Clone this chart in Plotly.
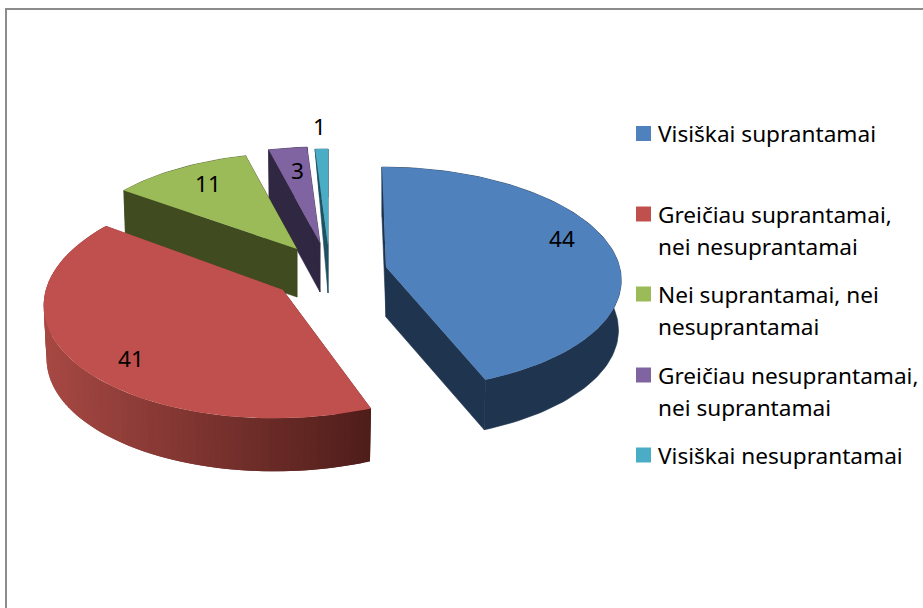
import math
import plotly.graph_objects as go

# --- data ---
categories = [
    ["Visiškai suprantamai"],
    ["Greičiau suprantamai,", "nei nesuprantamai"],
    ["Nei suprantamai, nei", "nesuprantamai"],
    ["Greičiau nesuprantamai,", "nei suprantamai"],
    ["Visiškai nesuprantamai"],
]
values = [44, 41, 11, 3, 1]

# --- styles ---
top_colors = ["#4F81BD", "#C0504D", "#9BBB59", "#8064A2", "#4BACC6"]
side_colors = ["#1F344F", None, "#404B20", "#302742", "#1F5260"]
red_rim_light = (166, 72, 67)
red_rim_dark = (78, 29, 26)
FONT = "Noto Sans"
FONT_SIZE = 22.6

# --- layout of the exploded 3D pie, in canvas pixels ---
W, H = 923, 608
apex = [(386, 267), (283, 290), (297, 249), (320, 243), (328, 245)]
scale_x = [0.99, 1.005, 0.96, 0.96, 0.96]
scale_y = [1.0, 1.05, 0.96, 0.96, 0.96]
shear = [4.5, -8, 0, 0, 0]
bottom_scale = [0.988, 0.988, 0.99, 0.99, 0.65]
depth = [50, 53, 48, 49, 48]
RX, RY, PERSP = 236, 110, 0.1
label_xy = [(562, 238), (131, 358), (208, 183), (297, 170), (319, 126)]
legend_y = [133.5, 214, 294, 375, 455]
LEGEND_SWATCH_X, LEGEND_TEXT_X, LEGEND_LINE = 643.5, 658, 32


def project(i, theta, r=1.0):
    u = r * math.sin(theta)
    v = -r * math.cos(theta)
    d = 1 - PERSP * v
    return (scale_x[i] * (RX * u + shear[i] * v) / d, scale_y[i] * RY * v / d)


def top_pt(i, theta):
    dx, dy = project(i, theta)
    return (apex[i][0] + dx, apex[i][1] + dy)


def bot_pt(i, theta):
    dx, dy = project(i, theta)
    return (apex[i][0] + dx * bottom_scale[i], apex[i][1] + dy + depth[i])


def poly(points, color, edge=0.0):
    xs = [p[0] for p in points] + [points[0][0]]
    ys = [p[1] for p in points] + [points[0][1]]
    return go.Scatter(x=xs, y=ys, mode="lines", fill="toself", fillcolor=color,
                      line=dict(color=color, width=edge), hoverinfo="skip", showlegend=False)


total = sum(values)
bounds = [0.0]
for val in values:
    bounds.append(bounds[-1] + 2 * math.pi * val / total)

fig = go.Figure()
for i in reversed(range(len(values))):
    a0, a1 = bounds[i], bounds[i + 1]
    n = max(4, int(math.degrees(a1 - a0) / 1.5))
    thetas = [a0 + (a1 - a0) * k / n for k in range(n + 1)]
    side = side_colors[i]
    ap_t, ap_b = apex[i], (apex[i][0], apex[i][1] + depth[i])

    def rim_color(x):
        if side is not None:
            return side
        t = min(1, max(0, (x - 47) / 326))
        return "rgb(%d,%d,%d)" % tuple(round(a + (b - a) * t) for a, b in zip(red_rim_light, red_rim_dark))

    # cut faces
    edge = 0.6 if side is not None else 0
    fig.add_trace(poly([top_pt(i, a0), ap_t, ap_b, bot_pt(i, a0)], rim_color(top_pt(i, a0)[0]), edge))
    fig.add_trace(poly([top_pt(i, a1), ap_t, ap_b, bot_pt(i, a1)], rim_color(top_pt(i, a1)[0]), edge))
    # outer rim
    if side is not None:
        fig.add_trace(poly([top_pt(i, t) for t in thetas] + [bot_pt(i, t) for t in reversed(thetas)], side, edge))
    else:
        # graded rim: each band overlaps the next one so that no seams show
        for k in range(n):
            p, q = thetas[k], thetas[min(k + 2, n)]
            xm = (top_pt(i, thetas[k])[0] + top_pt(i, thetas[k + 1])[0]) / 2
            fig.add_trace(poly([top_pt(i, p), top_pt(i, thetas[k + 1]), top_pt(i, q),
                                bot_pt(i, q), bot_pt(i, thetas[k + 1]), bot_pt(i, p)], rim_color(xm)))
    # top face
    fig.add_trace(poly([ap_t] + [top_pt(i, t) for t in thetas], top_colors[i]))

# legend swatches
fig.add_trace(go.Scatter(
    x=[LEGEND_SWATCH_X] * len(values), y=legend_y, mode="markers",
    marker=dict(symbol="square", size=15, color=top_colors, line=dict(width=0)),
    hoverinfo="skip", showlegend=False))

annotations = []
for val, (lx, ly) in zip(values, label_xy):
    annotations.append(dict(x=lx, y=ly, text=str(val), showarrow=False, xanchor="center", yanchor="middle",
                            font=dict(family=FONT, size=FONT_SIZE, color="#000000")))
for lines, y0 in zip(categories, legend_y):
    for j, line in enumerate(lines):
        annotations.append(dict(x=LEGEND_TEXT_X, y=y0 + j * LEGEND_LINE, text=line, showarrow=False,
                                xanchor="left", yanchor="middle", xshift=-2,
                                font=dict(family=FONT, size=FONT_SIZE, color="#000000")))

fig.update_layout(
    width=W, height=H, margin=dict(l=0, r=0, t=0, b=0),
    paper_bgcolor="#ffffff", plot_bgcolor="#ffffff", showlegend=False,
    xaxis=dict(range=[0, W], visible=False, fixedrange=True),
    yaxis=dict(range=[H, 0], visible=False, fixedrange=True),
    annotations=annotations,
    shapes=[dict(type="rect", x0=6, y0=9, x1=W + 20, y1=H + 20,
                 line=dict(color="#8c8c8c", width=2), layer="below")],
)
fig.write_html("out.html", config={"displayModeBar": False},
               post_script="document.body.style.margin='0';")
